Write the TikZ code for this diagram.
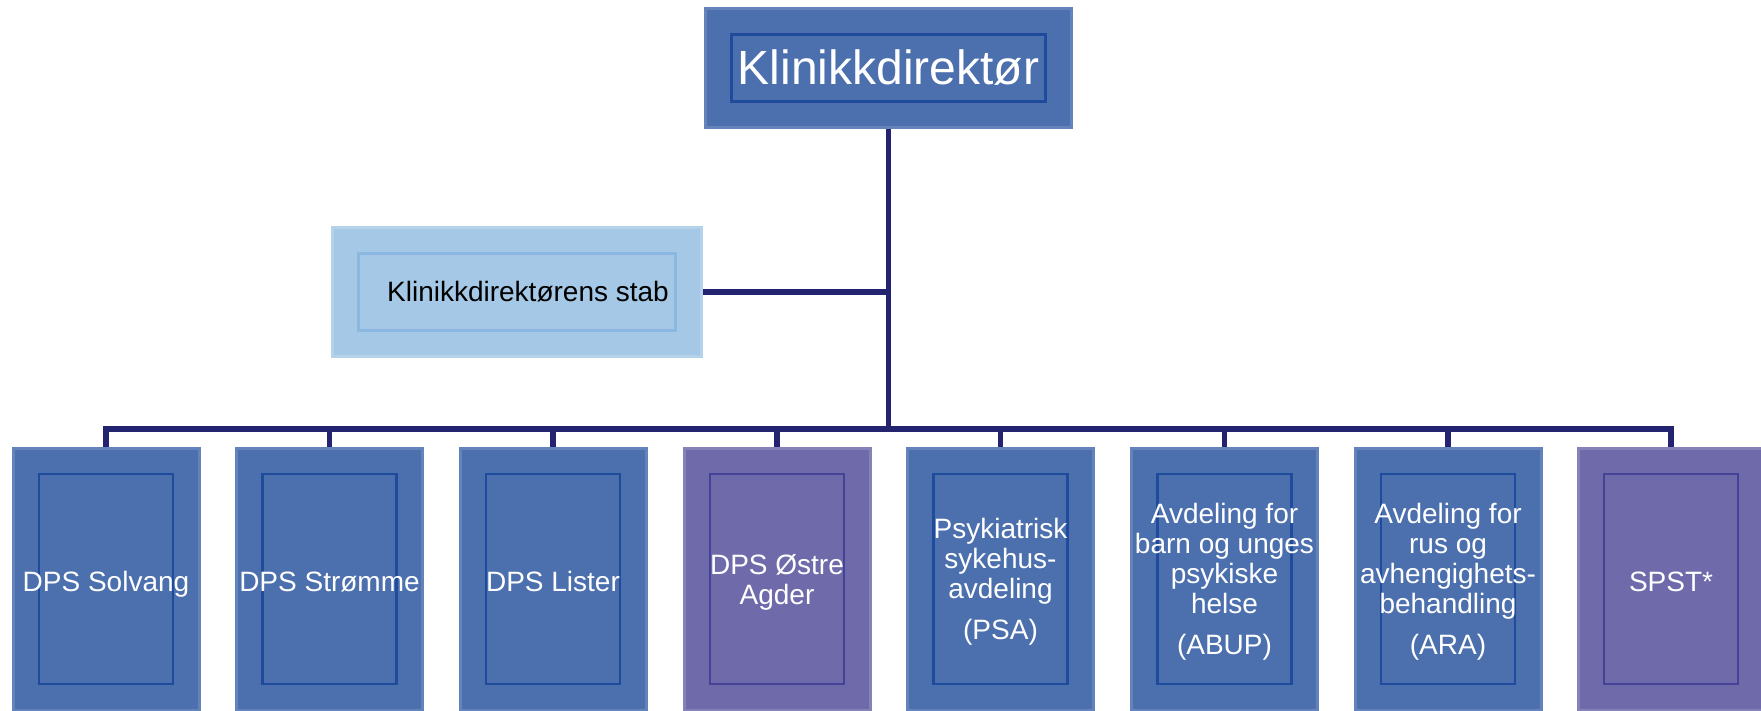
\documentclass[tikz,border=0pt]{standalone}
\usepackage{fontspec}
\setmainfont{Liberation Sans}
\definecolor{boxblue}{HTML}{4C70AE}
\definecolor{boxblueedge}{HTML}{6483BA}
\definecolor{innerblue}{HTML}{1F4B9C}
\definecolor{boxpurple}{HTML}{6F6BAB}
\definecolor{boxpurpleedge}{HTML}{8582B8}
\definecolor{innerpurple}{HTML}{454298}
\definecolor{stabfill}{HTML}{A4C8E5}
\definecolor{stabedge}{HTML}{B4D2EA}
\definecolor{stabinner}{HTML}{8AB8E0}
\definecolor{linenavy}{HTML}{232370}
\tikzset{
  innerframe/.style={path picture={\draw[#1, line width=2.5pt]
     ([shift={(26pt,-26pt)}]path picture bounding box.north west) rectangle
     ([shift={(-26pt,26pt)}]path picture bounding box.south east);}},
  basebox/.style={rectangle, inner sep=0pt, align=center, line width=3pt},
  bluebox/.style={basebox, fill=boxblue, draw=boxblueedge, innerframe=innerblue, text=white},
  purplebox/.style={basebox, fill=boxpurple, draw=boxpurpleedge, innerframe=innerpurple, text=white},
  stabbox/.style={basebox, fill=stabfill, draw=stabedge, innerframe=stabinner, text=black},
  unitbox/.style={minimum width=186pt, minimum height=262pt, font=\fontsize{28}{30}\selectfont},
  oneline/.style={text height=28pt, text depth=4pt},
  conn/.style={draw=linenavy, line width=5.5pt, line join=miter}
}
\begin{document}
\begin{tikzpicture}[x=1pt,y=-1pt]
\useasboundingbox (0,0) rectangle (1761,711);
\node[bluebox, minimum width=366pt, minimum height=119pt, font=\fontsize{48}{52}\selectfont] (top) at (888.5,68) {Klinikkdirektør};
\node[stabbox, minimum width=369pt, minimum height=129pt, font=\fontsize{28}{32}\selectfont] (stab) at (517,292) {\hspace*{22pt}Klinikkdirektørens stab};
\node[bluebox, unitbox, oneline] (b1) at (106,579) {DPS Solvang};
\node[bluebox, unitbox, oneline] (b2) at (329.5,579) {DPS Strømme};
\node[bluebox, unitbox, oneline] (b3) at (553,579) {DPS Lister};
\node[purplebox, unitbox, text depth=-6pt] (b4) at (777,579) {DPS Østre\\Agder};
\node[bluebox, unitbox, text depth=-8pt] (b5) at (1000.5,579) {Psykiatrisk\\sykehus-\\avdeling\\[11pt](PSA)};
\node[bluebox, unitbox, text depth=-8pt] (b6) at (1224.5,579) {Avdeling for\\barn og unges\\psykiske\\helse\\[11pt](ABUP)};
\node[bluebox, unitbox, text depth=-8pt] (b7) at (1448,579) {Avdeling for\\rus og\\avhengighets-\\behandling\\[11pt](ARA)};
\node[purplebox, unitbox, oneline] (b8) at (1671,579) {SPST*};
\coordinate (bus) at (888.5,429);
\draw[conn] (top.south) -- (bus);
\draw[conn] (stab.east) -- (stab.east -| top.south);
\draw[conn] (b1.north) |- (bus) -| (b8.north);
\foreach \i in {2,...,7} {\draw[conn] (b\i.north) -- (b\i.north |- bus);}
\end{tikzpicture}
\end{document}
